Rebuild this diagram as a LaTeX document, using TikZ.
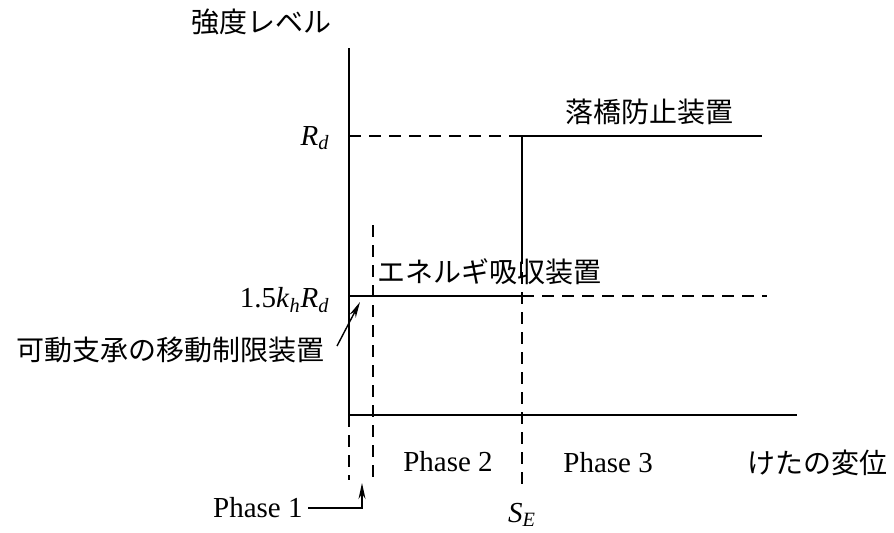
\documentclass[tikz,border=0pt]{standalone}
\usepackage{fontspec}
\setmainfont{Liberation Serif}
\newfontfamily\jpfont{Noto Sans CJK JP}
\usetikzlibrary{positioning, arrows.meta}
\newcommand{\ivar}[2]{\textit{#1}\textsubscript{\textit{#2}}}

\begin{document}
\begin{tikzpicture}[x=0.5pt, y=-0.5pt,
    solidline/.style={line width=1.2pt},
    dashline/.style={line width=0.7pt, dash pattern=on 6pt off 4pt},
    pointer/.style={line width=0.7pt, -{Stealth[length=8pt, width=3.5pt]}},
    lbl/.style={inner sep=0pt, font=\fontsize{14.5}{16}\selectfont},
    jlbl/.style={inner sep=0pt, font=\fontsize{14}{16}\selectfont\jpfont}]
    \useasboundingbox (0,0) rectangle (894,532);

    % Key points of the axes and levels
    \coordinate (top) at (349,48);
    \coordinate (o) at (349,415);
    \coordinate (xend) at (797,415);
    \coordinate (rdl) at (349,136);
    \coordinate (rdse) at (522,136);
    \coordinate (rdend) at (762,136);
    \coordinate (kl) at (349,296);
    \coordinate (kse) at (522,296);
    \coordinate (kend) at (767,296);
    \coordinate (sebreak) at (522,252);
    \coordinate (sebot) at (522,490);
    \coordinate (otop) at (373,225);
    \coordinate (obot) at (373,480);
    \coordinate (abot) at (349,480);

    % Draw axes
    \draw[solidline] (top) -- (o) -- (xend);
    \draw[dashline] (o) -- (abot);

    % Draw levels
    \draw[dashline] (rdl) -- (rdse);
    \draw[solidline] (sebreak) -- (rdse) -- (rdend);
    \draw[solidline] (kl) -- (kse);
    \draw[dashline] (kse) -- (kend);

    % Draw phase borders
    \draw[dashline] (otop) -- (obot);
    \draw[dashline] (sebreak) -- (sebot);

    % Labels
    \node[jlbl] (ylabel) at (261,22) {強度レベル};
    \node[lbl, anchor=east] (rd) at (330,138) {\ivar{R}{d}};
    \node[lbl, anchor=east] (krd) at (330,300) {1.5\ivar{k}{h}\ivar{R}{d}};
    \node[jlbl, anchor=west] (fall) at (565,112) {落橋防止装置};
    \node[jlbl, anchor=west] (energy) at (377,272) {エネルギ吸収装置};
    \node[jlbl, anchor=east] (bearing) at (325,350) {可動支承の移動制限装置};
    \node[lbl] (ph2) at (448,462) {Phase 2};
    \node[lbl, anchor=west] (ph3) at (563,463) {Phase 3};
    \node[jlbl, anchor=west] (xlabel) at (747,463) {けたの変位};
    \node[lbl, anchor=east] (ph1) at (303,508) {Phase 1};
    \node[lbl] (se) at (522,515) {\ivar{S}{E}};

    % Pointers
    \coordinate (bfoot) at (337,346);
    \coordinate (btip) at (360,302);
    \coordinate (ptip) at (362,483);
    \draw[pointer] (bfoot) -- (btip);
    \draw[pointer] (ph1.east) ++(5,0) -| (ptip);

\end{tikzpicture}
\end{document}
